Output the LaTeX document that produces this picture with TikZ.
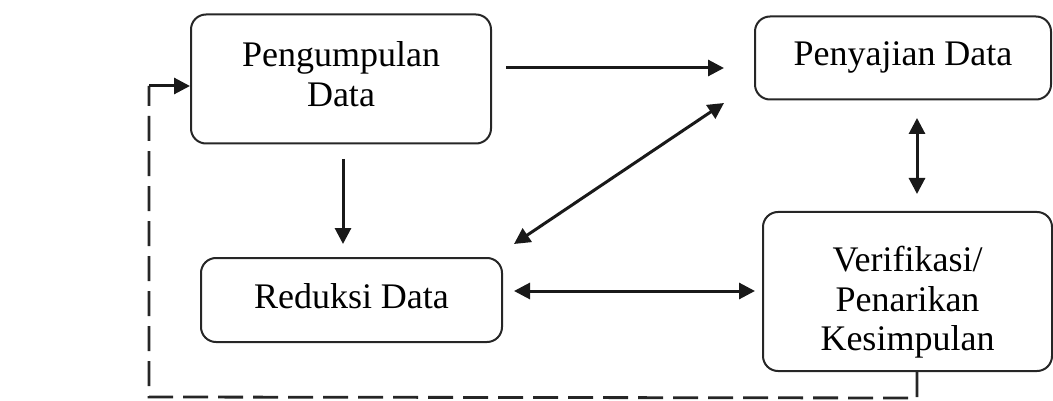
\documentclass[tikz,border=0pt]{standalone}
\usepackage{fontspec}
\setmainfont{Liberation Serif}
\usetikzlibrary{arrows.meta,calc}

% centred lines whose first baseline sits #1 below the middle of the box
\newcommand\stagetext[2]{\raisebox{#1}[0pt][0pt]{\parbox[t]{280pt}{\centering
  \baselineskip=39.5pt #2}}}

\tikzset{
  stage/.style={draw=black!85, line width=2pt, rounded corners=15pt,
    inner sep=0pt, font=\fontsize{36}{39.5}\selectfont},
  flow/.style={line width=3pt, draw=black!90, -{Triangle[length=16pt,width=16pt]}},
  twoway/.style={line width=3pt, draw=black!90,
    {Triangle[length=16pt,width=16pt]}-{Triangle[length=16pt,width=16pt]}},
  feedback/.style={line width=2.8pt, draw=black!85, dash pattern=on 25pt off 10pt}
}

\begin{document}
\begin{tikzpicture}[x=1pt,y=-1pt]
  \useasboundingbox (0,0) rectangle (1053,401);

  % the four stages of the analysis
  \node[stage, minimum width=300pt, minimum height=129pt] (peng) at (341,79)
    {\stagetext{12pt}{Pengumpulan\\Data}};
  \node[stage, minimum width=296pt, minimum height=83pt] (penyaj) at (903,58)
    {\stagetext{-8pt}{Penyajian Data}};
  \node[stage, minimum width=301pt, minimum height=84pt] (reduksi) at (351.5,300)
    {\stagetext{-8pt}{Reduksi Data}};
  \node[stage, minimum width=289pt, minimum height=159pt] (verif) at (907.5,291.5)
    {\stagetext{20pt}{Verifikasi/\\Penarikan\\Kesimpulan}};

  % connectors between stages
  \draw[flow] ($(peng.east)+(14,-11)$) -- ($(penyaj.west)+(-30,10)$);
  \draw[flow] ($(peng.south)+(2,14.5)$) -- ($(reduksi.north)+(-8.5,-13)$);
  \draw[twoway] ($(reduksi.north east)+(11,-13)$) -- ($(penyaj.south west)+(-30,2.5)$);
  \draw[twoway] ($(reduksi.east)+(11,-9)$) -- ($(verif.west)+(-7,-0.5)$);
  \draw[twoway] ($(penyaj.south)+(14,17.5)$) -- ($(verif.north)+(9.5,-17)$);

  % feedback loop from the conclusion back to data collection
  \coordinate (fbA) at ($(verif.south)+(9.5,0)$);
  \coordinate (fbB) at ($(fbA)+(0,26)$);
  \coordinate (fbC) at (149,397);
  \coordinate (fbD) at (149,86);
  \draw[feedback] (fbA) -- (fbB) -- (fbC) -- (fbD);
  \draw[flow] (fbD) -- (fbD -| peng.west);
\end{tikzpicture}
\end{document}
